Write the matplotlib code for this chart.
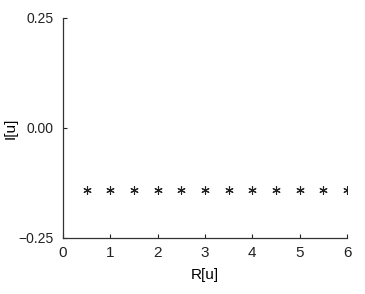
import matplotlib
matplotlib.use("Agg")
import matplotlib.pyplot as plt

plt.rcParams['font.family'] = ['Liberation Sans', 'DejaVu Sans']

x_vals = [0.5, 1.0, 1.5, 2.0, 2.5, 3.0, 3.5, 4.0, 4.5, 5.0, 5.5, 6.0]
y_vals = [-0.14] * 12
x_ticks = [0, 1, 2, 3, 4, 5, 6]
y_ticks = [-0.25, 0.00, 0.25]
y_ticklabels = ["\u22120.25", "0.00", "0.25"]

fig = plt.figure(figsize=(3.65, 2.94), dpi=100)
ax = fig.add_axes([0.1726, 0.1905, 0.7781, 0.7483])
ax.plot(x_vals, y_vals, linestyle='none', marker=(6, 2, 0), markersize=6,
        color='#222222', markeredgewidth=0.8)
ax.set_xlim(0, 6)
ax.set_ylim(-0.25, 0.25)
ax.set_xticks(x_ticks)
ax.set_yticks(y_ticks)
ax.set_yticklabels(y_ticklabels)
for s in ['top', 'right']:
    ax.spines[s].set_visible(False)
for s in ['left', 'bottom']:
    ax.spines[s].set_linewidth(0.9)
    ax.spines[s].set_color('#333333')
ax.tick_params(direction='in', length=3, width=0.8, colors='#222222')
ax.tick_params(axis='y', labelsize=10, pad=7)
ax.tick_params(axis='x', labelsize=11, pad=6)
ax.set_xlabel("R[u]", fontsize=11)
ax.set_ylabel("I[u]", fontsize=11)
ax.xaxis.set_label_coords(0.5, -0.135)
ax.yaxis.set_label_coords(-0.16, 0.5)
fig.savefig("out.png", dpi=100, facecolor='white')
